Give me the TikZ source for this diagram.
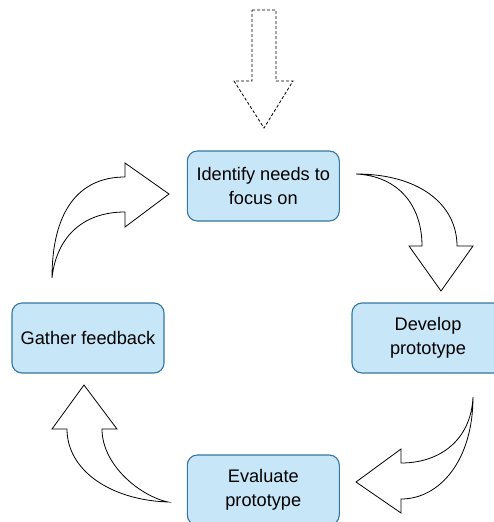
\documentclass[tikz,border=0pt]{standalone}
\usepackage{fontspec}
\setmainfont{Liberation Sans}
\usepackage{xcolor}
\usepackage{tikz}
\usetikzlibrary{positioning}
\definecolor{cajafondo}{RGB}{199,230,247}
\definecolor{cajaborde}{RGB}{52,118,160}
\tikzset{
  caja/.style={rectangle,rounded corners=10pt,fill=cajafondo,draw=cajaborde,line width=1.1pt,
    minimum width=152pt,minimum height=70pt,align=center,inner sep=0pt,
    font=\fontsize{18.2}{24.5}\selectfont},
  flecha/.style={draw=black,fill=white,line width=0.8pt,line join=miter},
  entrada/.style={flecha,dashed,dash pattern=on 3pt off 2pt}
}

\begin{document}
\begin{tikzpicture}[x=1pt,y=-1pt]
\useasboundingbox (0,0) rectangle (494,522);
% the four steps of the cycle
\node[caja] (identify) at (263.3,186) {Identify needs to\\focus on};
\node[caja] (develop)  at (428,338)  {Develop\\prototype};
\node[caja] (evaluate) at (263.3,490) {Evaluate\\prototype};
\node[caja] (gather)   at (88,338)   {Gather feedback};
% incoming arrow, dashed
\draw[entrada] (252,10) -- (276,10) -- (276,81) -- (293,81) -- (264,128)
  -- (234,81) -- (252,81) -- cycle;
% identify -> develop
\draw[flecha] (356,174) .. controls (420,174) and (457,205) .. (457,246)
  -- (473,246) -- (441,291) -- (409,246) -- (422,246)
  .. controls (422,205) and (398,176) .. (356,174) -- cycle;
% develop -> evaluate
\draw[flecha] (473,397) .. controls (473,460) and (440,499) .. (401,499)
  -- (401,513) -- (356,482) -- (401,449) -- (401,463)
  .. controls (440,463) and (471,440) .. (473,397) -- cycle;
% evaluate -> gather
\draw[flecha] (168,502) .. controls (110,500) and (67,470) .. (67,429)
  -- (52,429) -- (84,385) -- (117,429) -- (102,429)
  .. controls (102,465) and (140,496) .. (168,502) -- cycle;
% gather -> identify
\draw[flecha] (52,278) .. controls (52,212) and (78,177) .. (125,177)
  -- (125,163) -- (169,194) -- (125,227) -- (125,212)
  .. controls (80,212) and (56,240) .. (52,278) -- cycle;
\end{tikzpicture}
\end{document}
